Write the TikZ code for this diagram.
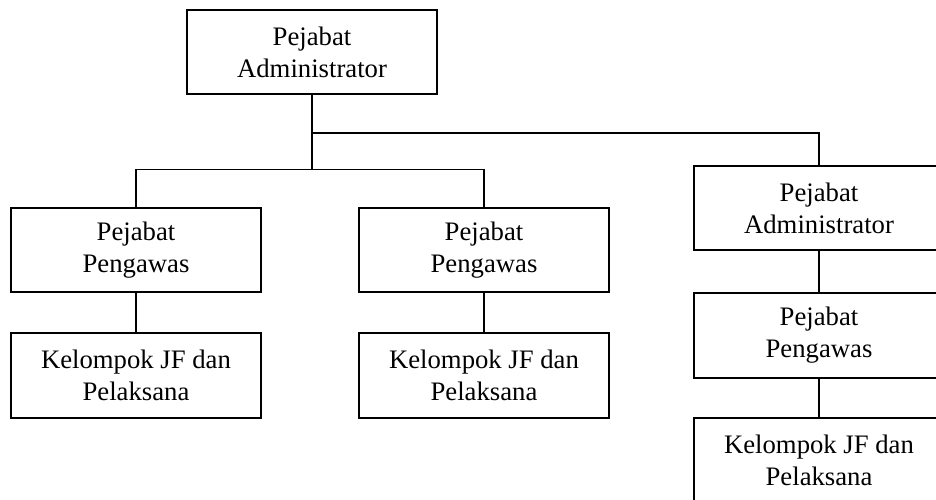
\documentclass[tikz,border=0pt]{standalone}
\usepackage{fontspec}
\setmainfont{Liberation Serif}
\begin{document}
\begin{tikzpicture}[x=1pt,y=-1pt,
  box/.style={draw, line width=1.5pt, minimum width=250pt, minimum height=84pt,
    align=center, inner sep=0pt, font=\fontsize{26.7pt}{32pt}\selectfont},
  link/.style={line width=1.5pt}]
\useasboundingbox (0,0) rectangle (936,500);
\clip (0,0) rectangle (936,500);
\node[box] (top) at (312,52) {Pejabat\\Administrator};
\node[box] (lp) at (136,250) {Pejabat\\Pengawas};
\node[box, minimum height=85pt] (lk) at (136,375.5) {Kelompok JF dan\\Pelaksana};
\node[box] (mp) at (484,250) {Pejabat\\Pengawas};
\node[box, minimum height=85pt] (mk) at (484,375.5) {Kelompok JF dan\\Pelaksana};
\node[box] (ra) at (819,208) {Pejabat\\Administrator};
\node[box, minimum height=85pt] (rp) at (819,335.5) {Pejabat\\Pengawas};
\node[box, minimum height=85pt] (rk) at (819,460.5) {Kelompok JF dan\\Pelaksana};
\draw[link] (top.south) -- (top.south |- 0,170);
\draw[link] (top.south |- 0,133) -| (ra.north);
\draw[link] (lp.north) -- ++(0,-38) -| (mp.north);
\draw[link] (lp.south) -- (lk.north);
\draw[link] (mp.south) -- (mk.north);
\draw[link] (ra.south) -- (rp.north);
\draw[link] (rp.south) -- (rk.north);
\end{tikzpicture}
\end{document}
